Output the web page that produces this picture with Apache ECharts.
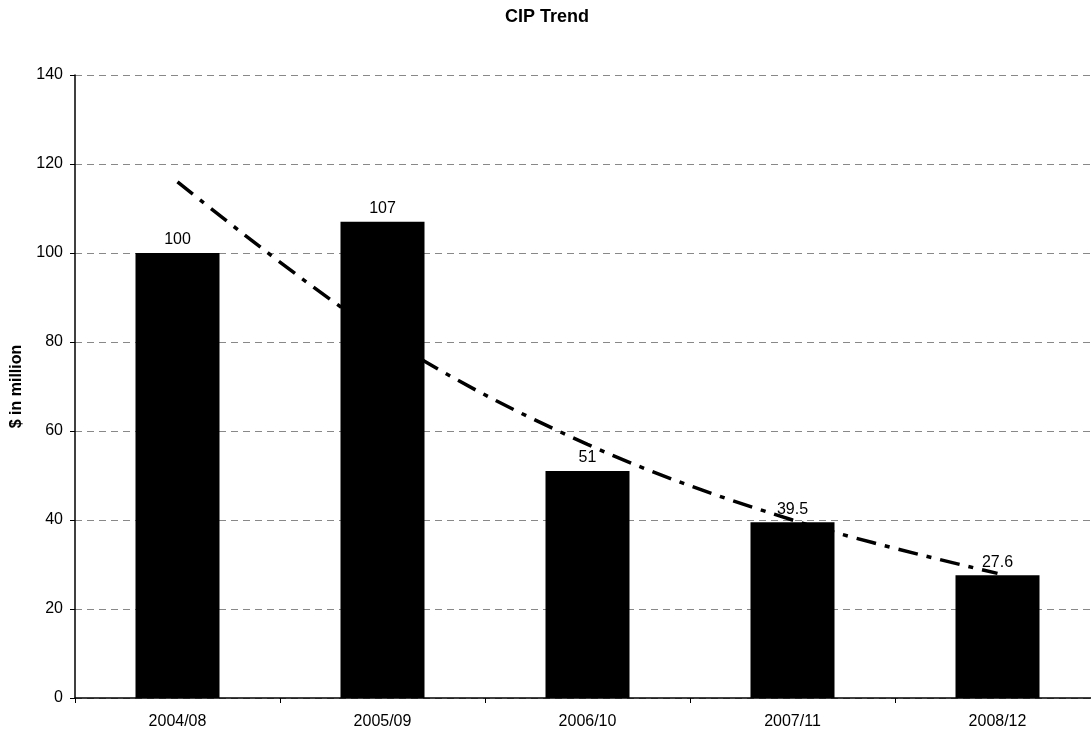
<!DOCTYPE html>
<html>
<head>
<meta charset="utf-8">
<script src="https://cdn.jsdelivr.net/npm/echarts@6/dist/echarts.min.js"></script>
<style>
html,body{margin:0;padding:0;background:#fff;}
#c{width:1091px;height:733px;}
</style>
</head>
<body>
<div id="c"></div>
<script>
var categories = ['2004/08', '2005/09', '2006/10', '2007/11', '2008/12'];
var cipValues = [100, 107, 51, 39.5, 27.6];
var trendValues = [116, 81.5, 57, 40, 28];
var yTicks = { min: 0, max: 140, interval: 20 };

var FONT = 'Liberation Sans, Arial, sans-serif';
var chart = echarts.init(document.getElementById('c'), null, { renderer: 'canvas' });
chart.setOption({
  animation: false,
  backgroundColor: '#ffffff',
  textStyle: { fontFamily: FONT },
  title: {
    text: 'CIP Trend',
    left: 500,
    top: 3,
    textStyle: { fontSize: 18, fontWeight: 'bold', color: '#000', fontFamily: FONT }
  },
  grid: { left: 75, top: 75, width: 1025, height: 623, outerBoundsMode: 'none', containLabel: false },
  xAxis: {
    type: 'category',
    data: categories,
    boundaryGap: true,
    axisLine: { show: true, lineStyle: { color: '#000', width: 1.5 } },
    axisTick: { show: true, alignWithLabel: false, length: 5, lineStyle: { color: '#000' } },
    axisLabel: { color: '#000', fontSize: 16, margin: 16, fontFamily: FONT },
    splitLine: { show: false }
  },
  yAxis: {
    type: 'value',
    min: yTicks.min,
    max: yTicks.max,
    interval: yTicks.interval,
    name: '$ in million',
    nameLocation: 'middle',
    nameGap: 50,
    nameRotate: 90,
    nameTextStyle: { color: '#000', fontSize: 16, fontWeight: 'bold', fontFamily: FONT },
    axisLine: { show: true, lineStyle: { color: '#000', width: 1.5 } },
    axisTick: { show: true, length: 5, lineStyle: { color: '#000' } },
    axisLabel: { color: '#000', fontSize: 16, margin: 12, fontFamily: FONT },
    splitLine: { show: true, lineStyle: { color: '#888', width: 1, type: [7, 5] } }
  },
  series: [
    {
      name: 'Trend',
      type: 'line',
      data: trendValues,
      smooth: 0.35,
      symbol: 'none',
      z: 1,
      lineStyle: { color: '#000', width: 3.5, type: [20, 9, 5, 9] }
    },
    {
      name: 'CIP',
      type: 'bar',
      data: cipValues,
      barWidth: 84,
      z: 3,
      itemStyle: { color: '#000' },
      label: {
        show: true,
        position: 'top',
        distance: 5,
        color: '#000',
        fontSize: 16,
        fontFamily: FONT
      }
    }
  ]
});
</script>
</body>
</html>
